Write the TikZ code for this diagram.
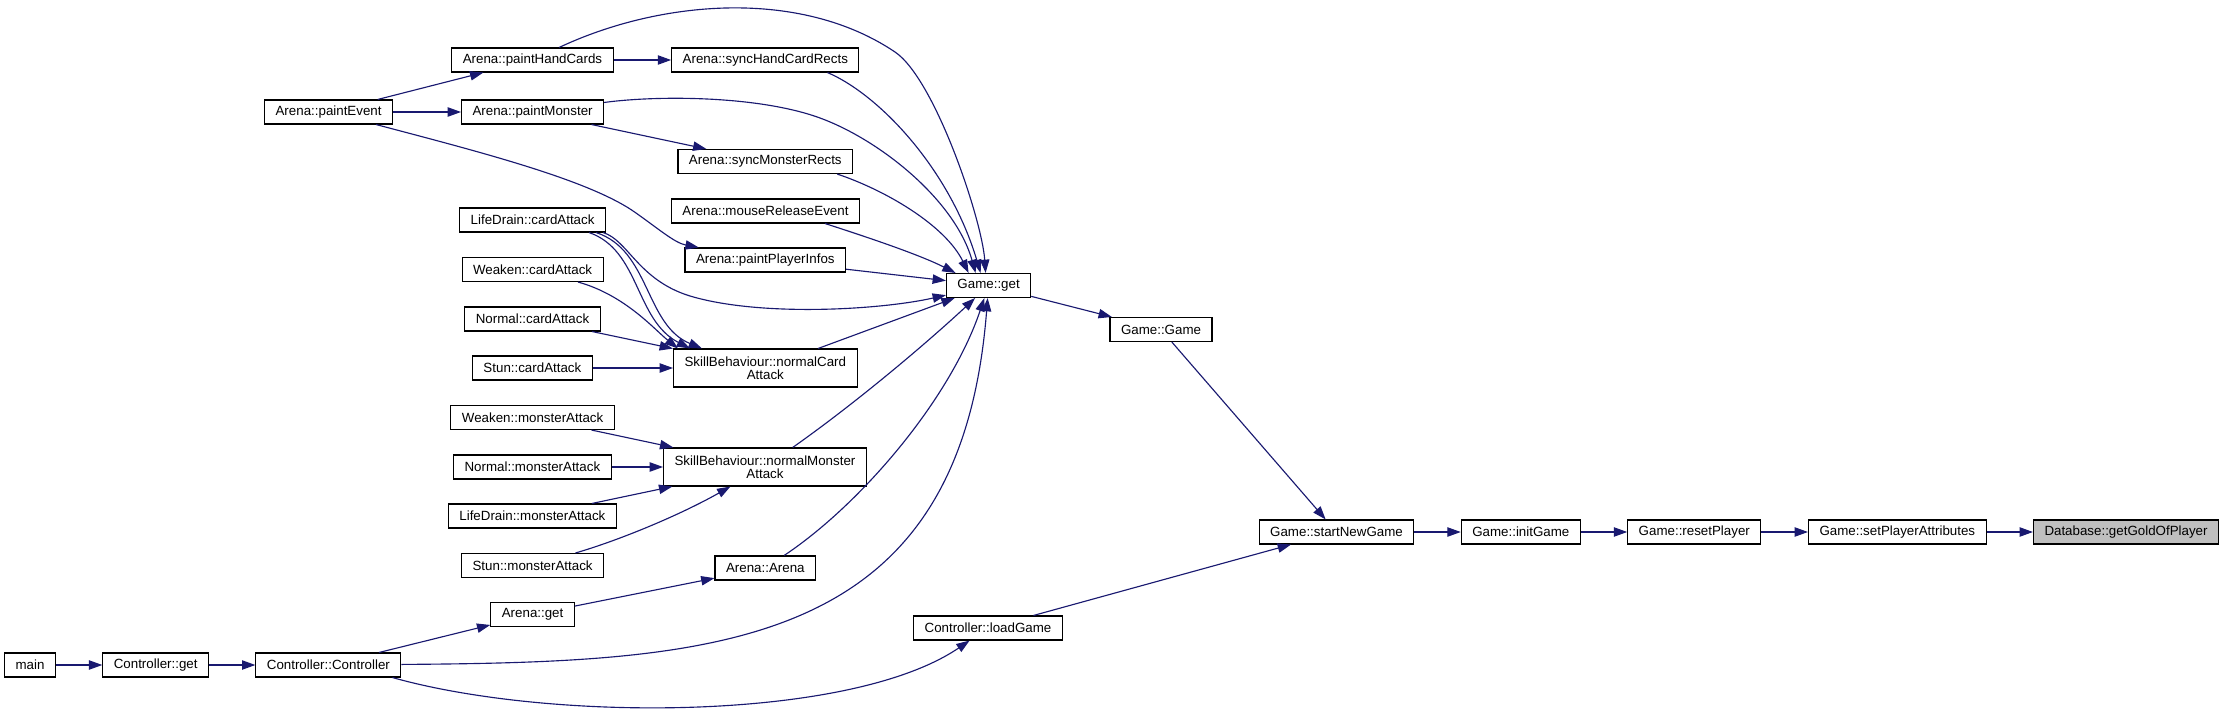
\documentclass[tikz,border=0pt]{standalone}
\usepackage{fontspec}
\setmainfont{Liberation Sans}
\usetikzlibrary{arrows.meta,positioning,calc}
\definecolor{edgeblue}{RGB}{25,25,112}
\definecolor{targetgray}{RGB}{191,191,191}

\begin{document}
\begin{tikzpicture}[
    x=0.75pt, y=-0.75pt,
    func/.style={rectangle, draw=black, fill=white, line width=0.8pt,
                 inner xsep=8.25pt, inner ysep=0pt, minimum height=18pt,
                 font=\fontsize{10pt}{9.75pt}\selectfont, align=center},
    twoline/.style={func, minimum height=28.5pt},
    target/.style={func, fill=targetgray},
    call/.style={draw=edgeblue, line width=0.85pt,
                 -{Triangle[length=10pt, width=7pt]}}
]
    \useasboundingbox (0, 0) rectangle (2223, 709);

    % Controller side
    \node[func] (main) at (30, 665) {main};
    \node[func] (ctlGet) at (155.7, 665) {Controller::get};
    \node[func] (ctlCtor) at (328.4, 665) {Controller::Controller};
    \node[func] (paintEvent) at (328.6, 112) {Arena::paintEvent};

    % Callers of the skill behaviour
    \node[func] (paintHand) at (532.5, 60) {Arena::paintHandCards};
    \node[func] (paintMonster) at (532.6, 112) {Arena::paintMonster};
    \node[func] (ldCard) at (532.6, 220) {LifeDrain::cardAttack};
    \node[func] (wkCard) at (532.6, 269.5) {Weaken::cardAttack};
    \node[func] (nmCard) at (532.5, 319) {Normal::cardAttack};
    \node[func] (stCard) at (532.4, 368) {Stun::cardAttack};
    \node[func] (wkMon) at (532.6, 417.5) {Weaken::monsterAttack};
    \node[func] (nmMon) at (532.4, 467) {Normal::monsterAttack};
    \node[func] (ldMon) at (532.4, 516) {LifeDrain::monsterAttack};
    \node[func] (stMon) at (532.6, 565.5) {Stun::monsterAttack};
    \node[func] (arenaGet) at (532.6, 614.5) {Arena::get};

    % Direct callers of Game::get
    \node[func] (syncHand) at (765.3, 60) {Arena::syncHandCardRects};
    \node[func] (syncMon) at (765.3, 161.5) {Arena::syncMonsterRects};
    \node[func] (mouseRel) at (765.5, 211) {Arena::mouseReleaseEvent};
    \node[func] (paintInfo) at (765.3, 260) {Arena::paintPlayerInfos};
    \node[twoline] (sbCard) at (765.3, 368) {SkillBehaviour::normalCard\\Attack};
    \node[twoline] (sbMon) at (765, 467) {SkillBehaviour::normalMonster\\Attack};
    \node[func] (arenaCtor) at (765.3, 568) {Arena::Arena};

    % Game chain
    \node[func] (gameGet) at (988.6, 285.5) {Game::get};
    \node[func] (loadGame) at (988, 628) {Controller::loadGame};
    \node[func] (gameCtor) at (1161, 329.5) {Game::Game};
    \node[func] (startNew) at (1336.5, 532) {Game::startNewGame};
    \node[func] (initGame) at (1520.8, 532) {Game::initGame};
    \node[func] (resetPlayer) at (1694.3, 532) {Game::resetPlayer};
    \node[func] (setAttr) at (1897.3, 532) {Game::setPlayerAttributes};
    \node[target] (goldDB) at (2126, 532) {Database::getGoldOfPlayer};

    % Calls into Game::get
    \draw[call] (paintHand) .. controls (660, 0) and (800, -12) .. (895, 52)
        .. controls (935, 79) and (982, 220) .. ($(gameGet.north)+(-3,0)$);
    \draw[call] ($(syncHand.south east)+(-32,0)$) .. controls (880, 95) and (950, 170) .. ($(gameGet.north)+(-8,0)$);
    \draw[call] (paintMonster) .. controls (660, 95) and (760, 96) .. (820, 118)
        .. controls (880, 140) and (955, 200) .. ($(gameGet.north)+(-13,0)$);
    \draw[call] ($(syncMon.south east)+(-16,0)$) .. controls (885, 190) and (945, 225) .. ($(gameGet.north)+(-20,0)$);
    \draw[call] ($(mouseRel.south east)+(-35,0)$) .. controls (870, 238) and (920, 255) .. ($(gameGet.north)+(-33,0)$);
    \draw[call] (paintInfo) -- (gameGet);
    \draw[call] ($(ldCard.south east)+(-3,0)$) .. controls (628, 240) and (638, 280) .. (690, 296)
        .. controls (760, 317) and (880, 310) .. (gameGet);
    \draw[call] (sbCard) -- (gameGet);
    \draw[call] (sbMon) .. controls (860, 400) and (930, 340) .. (gameGet);
    \draw[call] (arenaCtor) .. controls (860, 505) and (950, 400) .. (gameGet);
    \draw[call] (ctlCtor) .. controls (720, 662) and (960, 650) .. (gameGet);

    % Arena painting
    \draw[call] (paintEvent) -- (paintHand);
    \draw[call] (paintEvent) -- (paintMonster);
    \draw[call] (paintEvent) .. controls (480, 152) and (590, 180) .. (636, 213)
        .. controls (660, 230) and (675, 243) .. (paintInfo);
    \draw[call] (paintHand) -- (syncHand);
    \draw[call] (paintMonster) -- (syncMon);

    % Card attacks
    \draw[call] ($(ldCard.south east)+(-17,0)$) .. controls (640, 250) and (635, 320) .. ($(sbCard.north west)+(17,0)$);
    \draw[call] ($(ldCard.south east)+(-10,0)$) .. controls (650, 250) and (645, 325) .. ($(sbCard.north west)+(29,0)$);
    \draw[call] (wkCard) .. controls (625, 295) and (655, 330) .. ($(sbCard.north west)+(5,0)$);
    \draw[call] (nmCard) -- (sbCard);
    \draw[call] (stCard) -- (sbCard);

    % Monster attacks
    \draw[call] (wkMon) -- (sbMon);
    \draw[call] (nmMon) -- (sbMon);
    \draw[call] (ldMon) -- (sbMon);
    \draw[call] (stMon) .. controls (620, 540) and (680, 515) .. (sbMon);

    % Controller
    \draw[call] (main) -- (ctlGet);
    \draw[call] (ctlGet) -- (ctlCtor);
    \draw[call] (ctlCtor) -- (arenaGet);
    \draw[call] (arenaGet) -- (arenaCtor);
    \draw[call] ($(ctlCtor.south east)+(-9,0)$) .. controls (550, 722) and (850, 722) .. (loadGame);

    % Game start chain
    \draw[call] (gameGet) -- (gameCtor);
    \draw[call] (gameCtor) -- (startNew);
    \draw[call] (loadGame) -- (startNew);
    \draw[call] (startNew) -- (initGame);
    \draw[call] (initGame) -- (resetPlayer);
    \draw[call] (resetPlayer) -- (setAttr);
    \draw[call] (setAttr) -- (goldDB);
\end{tikzpicture}
\end{document}
